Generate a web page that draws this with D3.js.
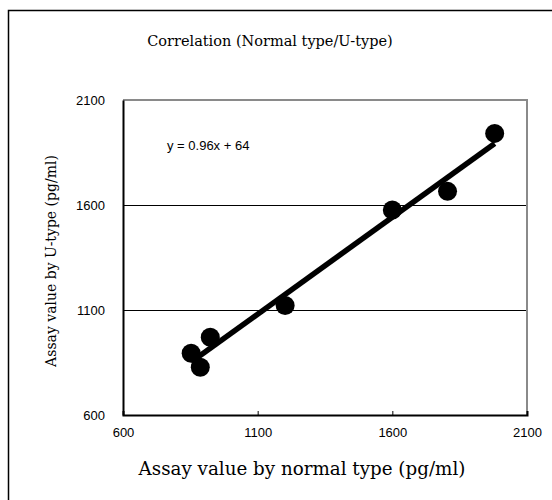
<!DOCTYPE html>
<html>
<head>
<meta charset="utf-8">
<script src="https://cdn.jsdelivr.net/npm/d3@7/dist/d3.min.js"></script>
<style>
  body { margin: 0; background: #fff; }
  .tick text { font-family: Arial, "Liberation Sans", sans-serif; font-size: 13px; fill: #000; }
</style>
</head>
<body>
<svg id="chart" width="552" height="500"></svg>
<script>
// assay values
const normalType = [853, 887, 924, 1202, 1600, 1805, 1980];
const uType = [894, 827, 970, 1121, 1576, 1665, 1941];
const tickValues = [600, 1100, 1600, 2100];
const equationLabel = 'y = 0.96x + 64';

const svg = d3.select('#chart');

const marginLeft = 123, marginTop = 100, width = 404, height = 315;

// outer frame (runs off the right and bottom edge)
svg.append('rect')
    .attr('x', 8.5).attr('y', 10.5)
    .attr('width', 600).attr('height', 600)
    .attr('fill', 'none').attr('stroke', '#000').attr('stroke-width', 1.5);

const chart = svg.append('g').attr('transform', `translate(${marginLeft}, ${marginTop})`);

const x = d3.scaleLinear().domain([600, 2100]).range([0, width]);
const y = d3.scaleLinear().domain([600, 2100]).range([height, 0]);

// grid lines at the inner y ticks
chart.selectAll('.grid')
    .data(tickValues.slice(1, -1))
    .enter()
    .append('line')
    .attr('x1', 0).attr('x2', width)
    .attr('y1', d => Math.round(y(d)) + 0.5).attr('y2', d => Math.round(y(d)) + 0.5)
    .attr('stroke', '#000').attr('stroke-width', 1);

// gray top and right border
chart.append('path')
    .attr('d', `M0,0H${width}V${height}`)
    .attr('fill', 'none').attr('stroke', '#8a8a8a').attr('stroke-width', 2);

const xAxis = chart.append('g')
    .attr('transform', `translate(0, ${height})`)
    .call(d3.axisBottom(x).tickValues(tickValues).tickSize(-4).tickPadding(13).tickFormat(d3.format('d')));
xAxis.select('.domain').attr('stroke', '#000').attr('stroke-width', 2);
xAxis.selectAll('.tick line').attr('stroke', '#000');

const yAxis = chart.append('g')
    .call(d3.axisLeft(y).tickValues(tickValues).tickSize(0).tickPadding(18).tickFormat(d3.format('d')));
yAxis.select('.domain').attr('stroke', '#000').attr('stroke-width', 2);

// least squares trend line from the points
const mx = d3.mean(normalType), my = d3.mean(uType);
const slope = d3.sum(normalType, (v, i) => (v - mx) * (uType[i] - my)) /
    d3.sum(normalType, v => (v - mx) * (v - mx));
const intercept = my - slope * mx;
const xr = d3.extent(normalType);

chart.append('line')
    .attr('x1', x(xr[0])).attr('y1', y(slope * xr[0] + intercept))
    .attr('x2', x(xr[1])).attr('y2', y(slope * xr[1] + intercept))
    .attr('stroke', '#000').attr('stroke-width', 5.5);

chart.selectAll('.pt')
    .data(normalType)
    .enter()
    .append('circle')
    .attr('cx', d => x(d))
    .attr('cy', (d, i) => y(uType[i]))
    .attr('r', 9.5)
    .attr('fill', '#000');

chart.append('text')
    .attr('x', 44).attr('y', 50)
    .attr('font-family', 'Arial, "Liberation Sans", sans-serif')
    .attr('font-size', 13)
    .text(equationLabel);

svg.append('text')
    .attr('x', 270).attr('y', 46)
    .attr('text-anchor', 'middle')
    .attr('font-family', '"DejaVu Serif", serif')
    .attr('font-size', 14.5)
    .text('Correlation (Normal type/U-type)');

svg.append('text')
    .attr('x', 302).attr('y', 475)
    .attr('text-anchor', 'middle')
    .attr('font-family', '"DejaVu Serif", serif')
    .attr('font-size', 18.3)
    .text('Assay value by normal type (pg/ml)');

svg.append('text')
    .attr('transform', `translate(56, 261) rotate(-90)`)
    .attr('text-anchor', 'middle')
    .attr('font-family', '"DejaVu Serif", serif')
    .attr('font-size', 14)
    .text('Assay value by U-type (pg/ml)');
</script>
</body>
</html>
